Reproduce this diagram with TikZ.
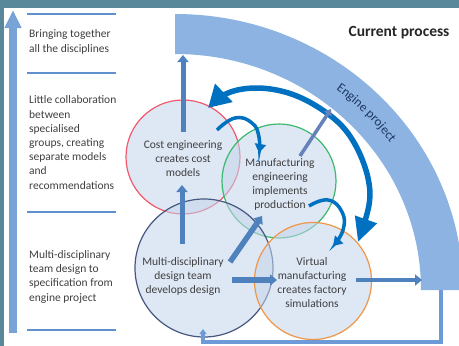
\documentclass[tikz,border=0pt]{standalone}
\usepackage{fontspec}
\setmainfont{Carlito}
\usetikzlibrary{arrows.meta,decorations.text}

\definecolor{frame}{RGB}{88,136,153}
\definecolor{band}{RGB}{141,179,226}
\definecolor{barblue}{RGB}{120,163,215}
\definecolor{sepblue}{RGB}{95,145,205}
\definecolor{arrowblue}{RGB}{79,129,189}
\definecolor{slateblue}{RGB}{100,130,185}
\definecolor{brightblue}{RGB}{0,112,192}
\definecolor{loopblue}{RGB}{110,155,215}
\definecolor{circfill}{RGB}{196,213,235}
\definecolor{costred}{RGB}{240,90,110}
\definecolor{mfggreen}{RGB}{60,185,110}
\definecolor{teamslate}{RGB}{70,88,130}
\definecolor{virtorange}{RGB}{240,150,70}
\definecolor{txt}{RGB}{64,64,64}
\definecolor{navy}{RGB}{31,56,100}

\begin{document}
\begin{tikzpicture}[x=1pt,y=-1pt,
  stage/.style={circle, line width=1.2pt, fill=circfill, fill opacity=0.55, inner sep=0pt},
  stagetext/.style={align=center, text=txt, font=\fontsize{11.5}{14}\selectfont, inner sep=0pt},
  sidetext/.style={align=left, text=txt, font=\fontsize{11.5}{14.2}\selectfont, inner sep=0pt, anchor=base west},
  separator/.style={sepblue, line width=2pt},
  flow/.style={arrowblue, line width=5pt, -{Triangle[length=7pt,width=11pt]}},
  swing/.style={brightblue, line width=3.5pt, -{Triangle[length=9pt,width=11pt]}},
]
\useasboundingbox (0,0) rectangle (459,346);
\fill[frame] (0,0) rectangle (459,346);
\fill[white] (4,8) rectangle (459,346);

\begin{scope}
\clip (4,8) rectangle (459,346);
% engine project band
\fill[band] (175,14) arc[start angle=-90,end angle=0,x radius=288,y radius=276]
  -- (421,290) arc[start angle=0,end angle=-90,x radius=246,y radius=236] -- cycle;
\path[decorate, decoration={text along path, text align=center,
  text={|\fontsize{13}{13}\selectfont\color{navy}|Engine project}}]
  (257.4,50.8) arc[start angle=-72,end angle=-16,x radius=265,y radius=252];
\end{scope}

% left scale
\draw[barblue, line width=8pt, -{Triangle[length=18pt,width=16pt]}] (13,333) -- (13,10);
\foreach \yy in {14,73,212,330} \draw[separator] (27,\yy) -- (116,\yy);
% each block is placed by the baseline of its last line
\node[sidetext] (lvl3) at (29,52) {Bringing together\\all the disciplines};
\node[sidetext] (lvl2) at (29,189) {Little collaboration\\between\\specialised\\groups, creating\\separate models\\and\\recommendations};
\node[sidetext] (lvl1) at (29,301) {Multi-disciplinary\\team design to\\specification from\\engine project};

\node[font=\bfseries\fontsize{15.5}{16}\selectfont, text=black!85] (title) at (399,33) {Current process};

% stage circles
\node[stage, draw=costred, minimum size=114pt] (cost) at (183,157) {};
\node[stage, draw=mfggreen, minimum size=114pt] (mfg) at (279,181) {};
\node[stage, draw=teamslate, minimum size=138pt] (team) at (204,268) {};
\node[stage, draw=virtorange, minimum size=117pt] (virt) at (313,281) {};

\node[stagetext] (costtxt) at (183,159) {Cost engineering\\creates cost\\models};
\node[stagetext] (mfgtxt) at (280,184) {Manufacturing\\engineering\\implements\\production};
\node[stagetext] (teamtxt) at (183,276) {Multi-disciplinary\\design team\\develops design};
\node[stagetext] (virttxt) at (312,283) {Virtual\\manufacturing\\creates factory\\simulations};

% connector ends
\coordinate (costOut) at (183,132);
\coordinate (bandTop) at (183,55);
\coordinate (teamUp) at (182,244);
\coordinate (costIn) at (182,185);
\coordinate (teamDiag) at (230,262);
\coordinate (mfgIn) at (262,216);
\coordinate (teamRight) at (232,280);
\coordinate (virtIn) at (277,280);
\coordinate (virtOut) at (356,280);
\coordinate (bandRight) at (422,280);
\coordinate (mfgOut) at (300,156);
\coordinate (bandMid) at (331,109);
\coordinate (bandFoot) at (441,290);
\coordinate (loopLow) at (441,342);
\coordinate (loopLeft) at (203,342);
\coordinate (teamFoot) at (203,329);

% feedback loop back to the design team
\draw[loopblue, line width=3.5pt, -{Triangle[length=5pt,width=7pt]}]
  (bandFoot) -- (loopLow) -- (loopLeft) -- (teamFoot);

% large two-way exchange arc
\draw[brightblue, line width=5.5pt, {Triangle[length=22pt,width=24pt]}-{Triangle[length=24pt,width=22pt]}]
  plot[smooth, tension=0.6] coordinates {(208,108) (228,93) (255,88) (285,92) (313,104) (340,124) (357,148) (368,178) (369,205) (358,242)};

% small hand-over arcs
\draw[swing] plot[smooth, tension=0.8] coordinates {(217,130) (235,118) (252,123) (259,137) (259,153)};
\draw[swing] plot[smooth, tension=0.8] coordinates {(309,206) (328,200) (342,212) (343,230) (333,246)};

% straight flows
\draw[flow] (costOut) -- (bandTop);
\draw[flow] (teamUp) -- (costIn);
\draw[flow, line width=5.5pt] (teamDiag) -- (mfgIn);
\draw[flow, line width=6pt] (teamRight) -- (virtIn);
\draw[flow, line width=4.5pt] (virtOut) -- (bandRight);
\draw[slateblue, line width=3.5pt, -{Triangle[length=6pt,width=9pt]}] (mfgOut) -- (bandMid);
\end{tikzpicture}
\end{document}
